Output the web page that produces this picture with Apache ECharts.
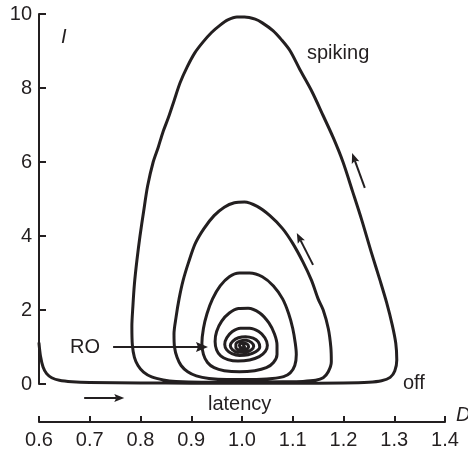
<!DOCTYPE html>
<html>
<head>
<meta charset="utf-8">
<script src="https://cdn.jsdelivr.net/npm/echarts@6/dist/echarts.min.js"></script>
<style>
  html, body { margin: 0; padding: 0; background: #fff; }
  #chart { width: 468px; height: 451px; }
</style>
</head>
<body>
<div id="chart"></div>
<script>
const INK = '#231f20';
const FONT = '"Liberation Sans", Arial, Helvetica, sans-serif';

// Axis ranges and tick steps
const dTicks = [0.6, 0.7, 0.8, 0.9, 1.0, 1.1, 1.2, 1.3, 1.4];
const iTicks = [0, 2, 4, 6, 8, 10];

// Phase-plane trajectory (D, I), split into its successive turns
const approach = [
  [0.600, 1.10], [0.603, 0.75], [0.608, 0.46], [0.615, 0.28], [0.625, 0.17],
  [0.640, 0.10], [0.665, 0.06], [0.700, 0.04], [0.800, 0.03], [0.900, 0.02],
  [1.000, 0.02], [1.100, 0.02], [1.200, 0.03], [1.250, 0.05], [1.275, 0.09],
  [1.292, 0.18], [1.301, 0.35]
];
const turn1 = [
  [1.305, 0.65], [1.303, 1.10], [1.296, 1.60], [1.285, 2.20], [1.272, 2.80],
  [1.255, 3.55], [1.236, 4.43], [1.218, 5.20], [1.199, 6.00], [1.180, 6.65],
  [1.160, 7.25], [1.138, 7.90], [1.114, 8.50], [1.095, 9.00], [1.078, 9.30],
  [1.061, 9.55], [1.040, 9.76], [1.026, 9.86], [1.005, 9.92], [0.990, 9.92],
  [0.972, 9.84], [0.957, 9.70], [0.940, 9.50], [0.923, 9.24], [0.907, 8.95],
  [0.892, 8.57], [0.878, 8.14], [0.866, 7.65], [0.855, 7.20], [0.844, 6.80],
  [0.835, 6.40], [0.825, 6.00], [0.814, 5.35], [0.806, 4.65], [0.799, 4.00],
  [0.793, 3.35], [0.788, 2.70], [0.785, 2.10], [0.783, 1.55], [0.784, 1.05],
  [0.788, 0.72], [0.795, 0.50], [0.806, 0.32], [0.822, 0.19], [0.845, 0.11],
  [0.870, 0.07], [0.920, 0.05], [1.000, 0.05], [1.080, 0.06], [1.120, 0.07],
  [1.145, 0.10], [1.160, 0.17], [1.170, 0.33]
];
const turn2 = [
  [1.176, 0.60], [1.175, 1.00], [1.170, 1.50], [1.160, 2.00], [1.150, 2.30],
  [1.137, 2.80], [1.120, 3.30], [1.100, 3.80], [1.080, 4.20], [1.055, 4.55],
  [1.030, 4.80], [1.005, 4.92], [0.985, 4.90], [0.965, 4.78], [0.945, 4.55],
  [0.925, 4.20], [0.908, 3.80], [0.895, 3.30], [0.884, 2.80], [0.876, 2.30],
  [0.870, 1.80], [0.866, 1.35], [0.867, 1.00], [0.872, 0.72], [0.880, 0.50],
  [0.893, 0.33], [0.910, 0.22], [0.935, 0.15], [0.970, 0.12], [1.020, 0.12],
  [1.060, 0.15], [1.082, 0.20], [1.095, 0.30]
];
const turn3 = [
  [1.104, 0.50], [1.107, 0.80], [1.105, 1.10], [1.100, 1.50], [1.092, 1.90],
  [1.080, 2.30], [1.062, 2.65], [1.040, 2.90], [1.015, 3.00], [0.995, 3.00],
  [0.975, 2.90], [0.957, 2.65], [0.942, 2.30], [0.931, 1.90], [0.924, 1.50],
  [0.921, 1.10], [0.924, 0.80], [0.932, 0.58], [0.945, 0.44], [0.965, 0.36],
  [0.995, 0.33], [1.025, 0.36], [1.048, 0.44], [1.062, 0.58]
];
const turn4 = [
  [1.069, 0.80], [1.069, 1.05], [1.064, 1.35], [1.053, 1.65], [1.035, 1.92],
  [1.012, 2.05], [0.993, 2.04], [0.975, 1.92], [0.960, 1.70], [0.950, 1.42],
  [0.947, 1.15], [0.950, 0.92], [0.958, 0.76], [0.972, 0.66], [0.992, 0.62],
  [1.015, 0.65], [1.034, 0.74], [1.046, 0.88]
];
const innerTurns = [
  [1.050, 1.05], [1.045, 1.25], [1.033, 1.42], [1.015, 1.51], [0.997, 1.51],
  [0.981, 1.42], [0.970, 1.25], [0.966, 1.07], [0.970, 0.92], [0.980, 0.82],
  [0.995, 0.77], [1.012, 0.79], [1.027, 0.87], [1.035, 1.00], [1.032, 1.14],
  [1.022, 1.24], [1.007, 1.28], [0.993, 1.25], [0.982, 1.16], [0.977, 1.04],
  [0.981, 0.93], [0.992, 0.86], [1.006, 0.86], [1.018, 0.92], [1.023, 1.02],
  [1.019, 1.12], [1.008, 1.18], [0.996, 1.16], [0.988, 1.08], [0.988, 0.98],
  [0.996, 0.92], [1.007, 0.93], [1.013, 1.00], [1.010, 1.08], [1.001, 1.11],
  [0.995, 1.05], [0.998, 0.98], [1.005, 1.00], [1.003, 1.05]
];
const trajectory = [].concat(approach, turn1, turn2, turn3, turn4, innerTurns);

const chart = echarts.init(document.getElementById('chart'), null, { renderer: 'canvas' });

chart.setOption({
  animation: false,
  backgroundColor: '#fff',
  grid: { left: 39, right: 23, top: 14, bottom: 67, containLabel: false },
  xAxis: {
    type: 'value',
    min: dTicks[0], max: dTicks[dTicks.length - 1], interval: 0.1,
    offset: 38,
    axisLine: { show: true, onZero: false, lineStyle: { color: INK, width: 2 } },
    axisTick: { show: true, inside: true, length: 6, lineStyle: { color: INK, width: 2 } },
    axisLabel: { color: INK, fontSize: 20, fontFamily: FONT, margin: 8,
                 formatter: v => v.toFixed(1) },
    splitLine: { show: false }
  },
  yAxis: {
    type: 'value',
    min: iTicks[0], max: iTicks[iTicks.length - 1], interval: 2,
    axisLine: { show: true, lineStyle: { color: INK, width: 2 } },
    axisTick: { show: true, inside: true, length: 7, lineStyle: { color: INK, width: 2 } },
    axisLabel: { color: INK, fontSize: 20, fontFamily: FONT, margin: 7 },
    splitLine: { show: false }
  },
  series: [{
    type: 'line',
    data: trajectory,
    showSymbol: false,
    smooth: 0.3,
    clip: false,
    lineStyle: { color: INK, width: 3, cap: 'round', join: 'round' }
  }]
});

// Arrow from a to b (data coordinates), filled head at b
function arrow(a, b, headLen, headW) {
  const p = chart.convertToPixel({ gridIndex: 0 }, a);
  const q = chart.convertToPixel({ gridIndex: 0 }, b);
  const dx = q[0] - p[0], dy = q[1] - p[1];
  const L = Math.hypot(dx, dy), ux = dx / L, uy = dy / L;
  const bx = q[0] - ux * headLen, by = q[1] - uy * headLen;
  return [
    { type: 'line', shape: { x1: p[0], y1: p[1], x2: bx + ux * 2, y2: by + uy * 2 },
      style: { stroke: INK, lineWidth: 2 } },
    { type: 'polygon', shape: { points: [
        [q[0], q[1]],
        [bx - uy * headW / 2, by + ux * headW / 2],
        [bx + ux * 2, by + uy * 2],
        [bx + uy * headW / 2, by - ux * headW / 2]
      ] }, style: { fill: INK } }
  ];
}

function label(text, x, y, italic) {
  return { type: 'text', x: x, y: y,
    style: { text: text, fill: INK, fontSize: 20, fontFamily: FONT,
             fontStyle: italic ? 'italic' : 'normal',
             textAlign: 'left', textVerticalAlign: 'middle' } };
}

chart.setOption({
  graphic: [].concat(
    arrow([0.746, 1.0], [0.933, 1.0], 12, 10),
    arrow([0.689, -0.38], [0.768, -0.38], 10, 8),
    arrow([1.140, 3.22], [1.108, 4.08], 10, 8),
    arrow([1.242, 5.30], [1.217, 6.24], 10, 8),
    [
      label('spiking', 307, 53),
      label('off', 403, 383),
      label('latency', 208, 404),
      label('RO', 70, 347),
      label('I', 61, 37, true),
      label('D', 456, 415, true)
    ]
  )
});
</script>
</body>
</html>
